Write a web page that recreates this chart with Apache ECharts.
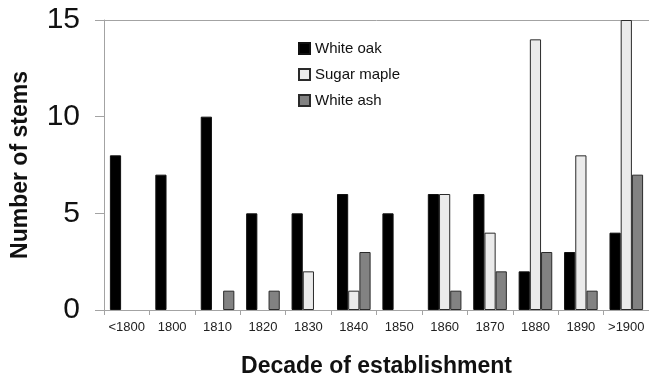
<!DOCTYPE html>
<html>
<head>
<meta charset="utf-8">
<title>Decade of establishment</title>
<script src="https://cdn.jsdelivr.net/npm/echarts@6/dist/echarts.min.js"></script>
<style>
  html, body { margin: 0; padding: 0; background: #ffffff; overflow: hidden; }
  #chart { width: 649px; height: 377px; }
</style>
</head>
<body>
<div id="chart"></div>
<script>
// Decades in which stems were established
const decades = ['<1800', '1800', '1810', '1820', '1830', '1840', '1850', '1860', '1870', '1880', '1890', '>1900'];

// Stem counts per species
const whiteOak    = [8, 7, 10, 5, 5, 6, 5, 6, 6, 2, 3, 4];
const sugarMaple  = [0, 0, 0, 0, 2, 1, 0, 6, 4, 14, 8, 15];
const whiteAsh    = [0, 0, 1, 1, 0, 3, 0, 1, 2, 3, 1, 7];

const yTicks = { min: 0, max: 15, interval: 5 };

const FONT = '"Liberation Sans", Arial, sans-serif';
const AXIS_GRAY = '#a3a3a3';

// empty decades draw no bar at all (not even an outline)
const bars = values => values.map(v => (v === 0 ? '-' : v));

const chart = echarts.init(document.getElementById('chart'), null, { renderer: 'canvas' });

chart.setOption({
  animation: false,
  backgroundColor: '#ffffff',
  textStyle: { fontFamily: FONT },
  grid: { left: 104, top: 20, right: 0, bottom: 67, containLabel: false, outerBoundsMode: 'none' },
  legend: {
    orient: 'vertical',
    left: 293,
    top: 36,
    itemWidth: 11,
    itemHeight: 11,
    itemGap: 11,
    textStyle: { fontFamily: FONT, fontSize: 15, color: '#111' },
    data: [
      { name: 'White oak', icon: 'rect' },
      { name: 'Sugar maple', icon: 'rect' },
      { name: 'White ash', icon: 'rect' }
    ]
  },
  xAxis: [
    {
      type: 'category',
      data: decades,
      position: 'bottom',
      boundaryGap: true,
      name: 'Decade of establishment',
      nameLocation: 'middle',
      nameGap: 45,
      nameTextStyle: { fontFamily: FONT, fontSize: 23, fontWeight: 'bold', color: '#111' },
      axisLine: { show: true, lineStyle: { color: AXIS_GRAY, width: 1 } },
      axisTick: { show: true, alignWithLabel: false, length: 5, lineStyle: { color: AXIS_GRAY } },
      axisLabel: { fontFamily: FONT, fontSize: 13, color: '#222', margin: 11, interval: 0 },
      splitLine: { show: false }
    },
    {
      // top border of the plot area
      type: 'category',
      data: decades,
      position: 'top',
      axisLine: { show: true, lineStyle: { color: AXIS_GRAY, width: 1 } },
      axisTick: { show: false },
      axisLabel: { show: false },
      splitLine: { show: false }
    }
  ],
  yAxis: {
    type: 'value',
    min: yTicks.min,
    max: yTicks.max,
    interval: yTicks.interval,
    name: 'Number of stems',
    nameLocation: 'middle',
    nameGap: 72,
    nameRotate: 90,
    nameTextStyle: { fontFamily: FONT, fontSize: 23, fontWeight: 'bold', color: '#111' },
    axisLine: { show: true, lineStyle: { color: AXIS_GRAY, width: 1 } },
    axisTick: { show: true, inside: false, length: 9, lineStyle: { color: AXIS_GRAY } },
    axisLabel: { fontFamily: FONT, fontSize: 30, color: '#111', margin: 24 },
    splitLine: { show: false }
  },
  series: [
    {
      name: 'White oak',
      type: 'bar',
      data: bars(whiteOak),
      barGap: '0%',
      barCategoryGap: '26%',
      itemStyle: { color: '#000000', borderColor: '#111111', borderWidth: 1 }
    },
    {
      name: 'Sugar maple',
      type: 'bar',
      data: bars(sugarMaple),
      barGap: '0%',
      barCategoryGap: '26%',
      itemStyle: { color: '#ebebeb', borderColor: '#2a2a2a', borderWidth: 1 }
    },
    {
      name: 'White ash',
      type: 'bar',
      data: bars(whiteAsh),
      barGap: '0%',
      barCategoryGap: '26%',
      itemStyle: { color: '#828282', borderColor: '#2a2a2a', borderWidth: 1 }
    }
  ]
});
</script>
</body>
</html>
